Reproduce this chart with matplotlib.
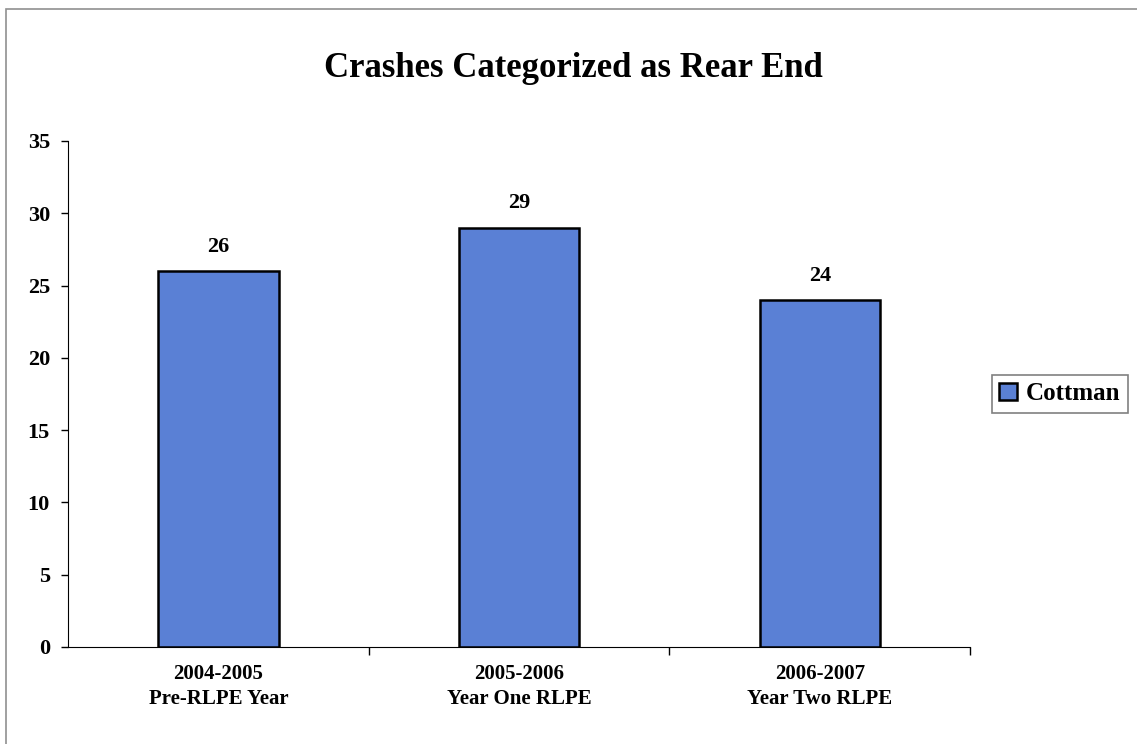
#!/usr/bin/env python3
"""Rear end crashes bar chart."""
import matplotlib.pyplot as plt
from matplotlib.patches import Rectangle

categories = ['2004-2005\nPre-RLPE Year', '2005-2006\nYear One RLPE', '2006-2007\nYear Two RLPE']
cottman = [26, 29, 24]
yticks = [0, 5, 10, 15, 20, 25, 30, 35]

plt.rcParams['font.family'] = ['Liberation Serif', 'DejaVu Serif']
plt.rcParams['font.weight'] = 'bold'

fig = plt.figure(figsize=(11.37, 7.44), dpi=100)
ax = fig.add_axes([0.0598, 0.1304, 0.7935, 0.6801])

# light page border around the chart area
fig.patches.append(Rectangle((0.005, -0.02), 1.2, 1.008, transform=fig.transFigure,
                             fill=False, edgecolor='#909090', linewidth=1.2))

x = range(len(categories))
ax.bar(x, cottman, width=0.4, color='#5a80d5', edgecolor='black', linewidth=1.8, label='Cottman')
for xi, v in zip(x, cottman):
    ax.text(xi, v + 1.0, str(v), ha='center', va='bottom', fontsize=16, fontweight='bold')

ax.set_xlim(-0.5, 2.5)
ax.set_ylim(0, 35)
ax.set_yticks(yticks)
ax.set_yticklabels([str(t) for t in yticks], fontsize=16, fontweight='bold')
ax.set_xticks([0.5, 1.5, 2.5])
ax.set_xticklabels([])
ax.set_xticks(list(x), minor=True)
ax.set_xticklabels(categories, minor=True, fontsize=15, fontweight='bold', linespacing=1.35)
ax.tick_params(axis='x', which='minor', length=0, pad=12)
ax.tick_params(axis='x', which='major', length=6, direction='out', width=1)
ax.tick_params(axis='y', length=5, width=1, pad=8)
ax.spines['top'].set_visible(False)
ax.spines['right'].set_visible(False)

fig.text(0.504, 0.908, 'Crashes Categorized as Rear End', ha='center', va='center',
         fontsize=25, fontweight='bold')

leg = ax.legend(loc='center left', bbox_to_anchor=(1.024, 0.5), borderaxespad=0,
                fontsize=18, frameon=True, fancybox=False, edgecolor='#606060',
                handlelength=0.7, handleheight=0.7, handletextpad=0.35, borderpad=0.3)
leg.get_frame().set_linewidth(1.2)

fig.savefig('out.png', dpi=100)
